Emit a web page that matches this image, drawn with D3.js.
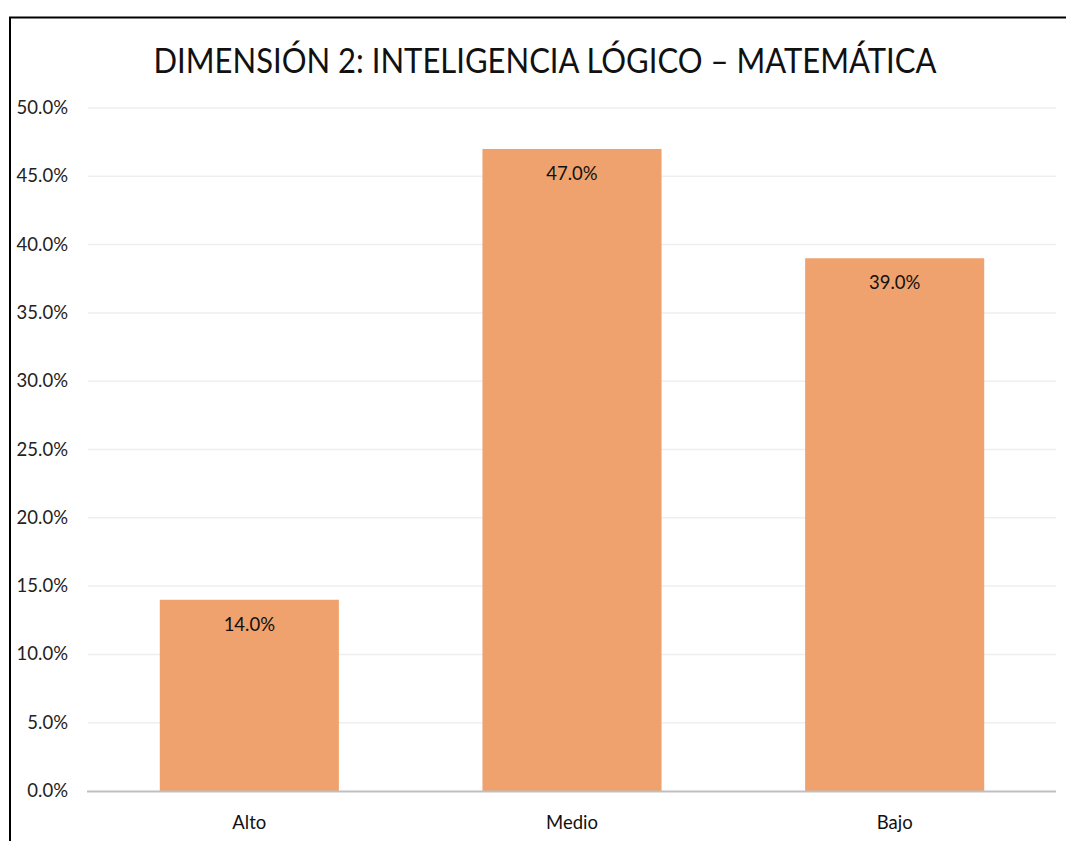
<!DOCTYPE html>
<html>
<head>
<meta charset="utf-8">
<script src="https://cdn.jsdelivr.net/npm/d3@7"></script>
<style>
body { margin: 0; background: #fff; }
text { font-family: Lato, "Noto Sans", sans-serif; }
</style>
</head>
<body>
<div id="chart-area"></div>
<script>
var categories = ["Alto", "Medio", "Bajo"];
var values = [0.14, 0.47, 0.39];
var yTicks = [0, 0.05, 0.10, 0.15, 0.20, 0.25, 0.30, 0.35, 0.40, 0.45, 0.50];
var title = "DIMENSIÓN 2: INTELIGENCIA LÓGICO – MATEMÁTICA";

var width = 1066;
var height = 841;

var svg = d3.select("#chart-area").append("svg")
    .attr("width", width)
    .attr("height", height)

// frame (only left and top edges are visible)
svg.append("rect")
    .attr("x", 10)
    .attr("y", 17.5)
    .attr("width", 1100)
    .attr("height", 900)
    .attr("fill", "none")
    .attr("stroke", "#000")
    .attr("stroke-width", 2)

var x = d3.scaleBand()
    .domain(categories)
    .range([88, 1056])
    .paddingInner(0.445)
    .paddingOuter(0.2225)

var y = d3.scaleLinear()
    .domain([0, 0.5])
    .range([791, 108])

var fmt = d3.format(".1%")

// gridlines
svg.append("g")
    .selectAll("line").data(yTicks.slice(1)).enter().append("line")
    .attr("x1", 88)
    .attr("x2", 1056)
    .attr("y1", d => y(d))
    .attr("y2", d => y(d))
    .attr("stroke", "#efefef")
    .attr("stroke-width", 1.5)

// y tick labels
svg.append("g")
    .selectAll("text").data(yTicks).enter().append("text")
    .attr("x", 68)
    .attr("y", d => y(d) + 6)
    .attr("text-anchor", "end")
    .attr("font-size", "18.5px")
    .attr("fill", "#222")
    .text(d => fmt(d))

// bars
svg.append("g")
    .selectAll("rect").data(values).enter().append("rect")
    .attr("x", (d, i) => x(categories[i]))
    .attr("y", d => y(d))
    .attr("width", x.bandwidth())
    .attr("height", d => y(0) - y(d))
    .attr("fill", "#efa26d")

// value labels
svg.append("g")
    .selectAll("text").data(values).enter().append("text")
    .attr("x", (d, i) => x(categories[i]) + x.bandwidth() / 2)
    .attr("y", d => y(d) + 31)
    .attr("text-anchor", "middle")
    .attr("font-size", "18.5px")
    .attr("fill", "#111")
    .text(d => fmt(d))

// baseline
svg.append("line")
    .attr("x1", 87)
    .attr("x2", 1056)
    .attr("y1", y(0) + 0.5)
    .attr("y2", y(0) + 0.5)
    .attr("stroke", "#bfbfbf")
    .attr("stroke-width", 2)

// category labels
svg.append("g")
    .selectAll("text").data(categories).enter().append("text")
    .attr("x", d => x(d) + x.bandwidth() / 2)
    .attr("y", 829)
    .attr("text-anchor", "middle")
    .attr("font-size", "18.5px")
    .attr("fill", "#111")
    .text(d => d)

// title
svg.append("text")
    .attr("x", 545)
    .attr("y", 73)
    .attr("text-anchor", "middle")
    .attr("font-size", "35px")
    .attr("textLength", 783)
    .attr("lengthAdjust", "spacingAndGlyphs")
    .attr("fill", "#111")
    .text(title)
</script>
</body>
</html>
